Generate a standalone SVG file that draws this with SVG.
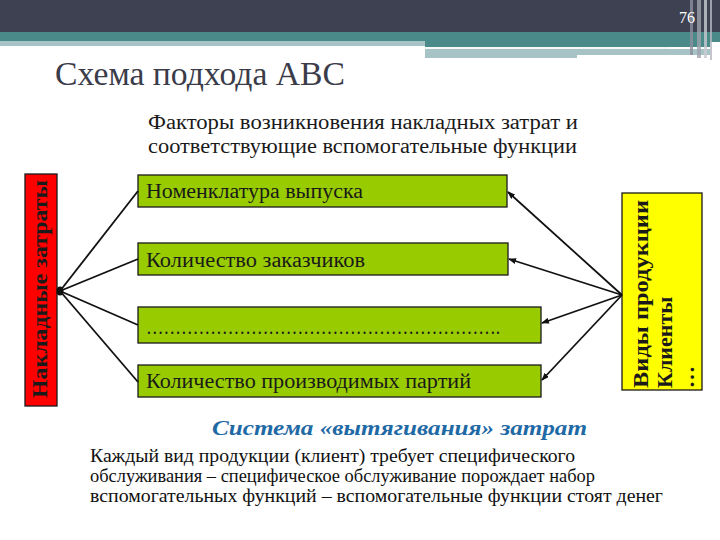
<svg xmlns="http://www.w3.org/2000/svg" width="720" height="540" viewBox="0 0 720 540">
<style>
.serif{font-family:"Liberation Serif","Times New Roman",serif}
.box{fill:#99cc00;stroke:#1a1a1a;stroke-width:1.3}
.btxt{font-family:"Liberation Serif","Times New Roman",serif;font-size:20px;fill:#1a1a1a}
.conn{stroke:#111;stroke-width:1.8;fill:none}
.bold{font-weight:bold;fill:#1a1a1a}
.para{font-family:"Liberation Serif","Times New Roman",serif;font-size:19px;fill:#111}
</style>
<defs>
<marker id="ah" markerWidth="8" markerHeight="6" refX="7" refY="3" orient="auto" markerUnits="userSpaceOnUse">
<path d="M0,0 L8,3 L0,6 Z" fill="#111"/>
</marker>
</defs>
<rect width="720" height="540" fill="#ffffff"/>
<g id="header">
<rect x="0" y="0" width="720" height="32" fill="#3e4152"/>
<rect x="0" y="32" width="720" height="10" fill="#4a8a88"/>
<rect x="0" y="41" width="425" height="5" fill="#a8c3c6"/>
<rect x="425" y="41" width="285" height="6" fill="#4a8a88"/>
<rect x="425" y="47" width="245" height="2" fill="#f4f8f8"/>
<rect x="425" y="49" width="285" height="6" fill="#a8c3c6"/>
<rect x="425" y="55" width="152" height="3" fill="#a8c3c6"/>
<rect x="690" y="0" width="3" height="55" fill="#8c8f9c" opacity="0.8"/>
<rect x="697" y="0" width="4" height="58" fill="#9ea2ae" opacity="0.8"/>
<rect x="704" y="0" width="3" height="58" fill="#c8cbd2" opacity="0.8"/>
<rect x="710" y="0" width="2" height="60" fill="#b5b8c0" opacity="0.8"/>
<text x="695" y="23" class="serif" font-size="16" fill="#ffffff" text-anchor="end">76</text>
</g>
<text id="title" x="55" y="85" class="serif" font-size="33" fill="#3b3c4a" textLength="290" lengthAdjust="spacingAndGlyphs">Схема подхода АВС</text>
<g id="subtitle" class="serif" font-size="20" fill="#1a1a1a">
<text x="148" y="129" textLength="430" lengthAdjust="spacingAndGlyphs">Факторы возникновения накладных затрат и</text>
<text x="148" y="153" textLength="429" lengthAdjust="spacingAndGlyphs">соответствующие вспомогательные функции</text>
</g>
<g id="overhead">
<rect x="25" y="174" width="32" height="232" fill="#ff0000" stroke="#1a1a1a" stroke-width="1.3"/>
<text transform="translate(47,289) rotate(-90)" class="serif bold" font-size="20" text-anchor="middle" textLength="218" lengthAdjust="spacingAndGlyphs">Накладные затраты</text>
</g>
<g id="products">
<rect x="622" y="193" width="80" height="197" fill="#ffff00" stroke="#1a1a1a" stroke-width="1.3"/>
<text transform="translate(648,388) rotate(-90)" class="serif bold" font-size="22" textLength="188" lengthAdjust="spacingAndGlyphs">Виды продукции</text>
<text transform="translate(672,388) rotate(-90)" class="serif bold" font-size="22">Клиенты</text>
<text transform="translate(694,388) rotate(-90)" class="serif bold" font-size="22">…</text>
</g>
<g id="f1">
<rect class="box" x="138" y="175" width="369" height="32"/>
<text class="btxt" x="146" y="198" textLength="217" lengthAdjust="spacingAndGlyphs">Номенклатура выпуска</text>
</g>
<g id="f2">
<rect class="box" x="138" y="243" width="370" height="32"/>
<text class="btxt" x="146" y="267" textLength="219" lengthAdjust="spacingAndGlyphs">Количество заказчиков</text>
</g>
<g id="f3">
<rect class="box" x="138" y="307" width="403" height="36"/>
<text class="btxt" x="146" y="334" textLength="354" lengthAdjust="spacingAndGlyphs">…………………………………………………….</text>
</g>
<g id="f4">
<rect class="box" x="138" y="365" width="403" height="32"/>
<text class="btxt" x="146" y="388" textLength="325" lengthAdjust="spacingAndGlyphs">Количество производимых партий</text>
</g>
<g id="connectors">
<line class="conn" x1="60" y1="291" x2="138" y2="191"/>
<line class="conn" x1="60" y1="291" x2="138" y2="259"/>
<line class="conn" x1="60" y1="291" x2="138" y2="325"/>
<line class="conn" x1="60" y1="291" x2="138" y2="382"/>
<ellipse cx="60" cy="291" rx="3.5" ry="4.5" fill="#111"/>
<line class="conn" stroke-width="1.5" x1="622" y1="295" x2="508" y2="192" marker-end="url(#ah)"/>
<line class="conn" stroke-width="1.5" x1="622" y1="295" x2="509" y2="259" marker-end="url(#ah)"/>
<line class="conn" stroke-width="1.5" x1="622" y1="295" x2="542" y2="323" marker-end="url(#ah)"/>
<line class="conn" stroke-width="1.5" x1="622" y1="295" x2="542" y2="380" marker-end="url(#ah)"/>
</g>
<text id="pull" x="212" y="435" class="serif" font-size="20" font-style="italic" font-weight="bold" fill="#1f6aa5" textLength="375" lengthAdjust="spacingAndGlyphs">Система «вытягивания» затрат</text>
<g id="para" class="para">
<text x="90" y="462" textLength="485" lengthAdjust="spacingAndGlyphs">Каждый вид продукции (клиент) требует специфического</text>
<text x="90" y="482" textLength="505" lengthAdjust="spacingAndGlyphs">обслуживания – специфическое обслуживание порождает набор</text>
<text x="90" y="502" textLength="573" lengthAdjust="spacingAndGlyphs">вспомогательных функций – вспомогательные функции стоят денег</text>
</g>
</svg>
